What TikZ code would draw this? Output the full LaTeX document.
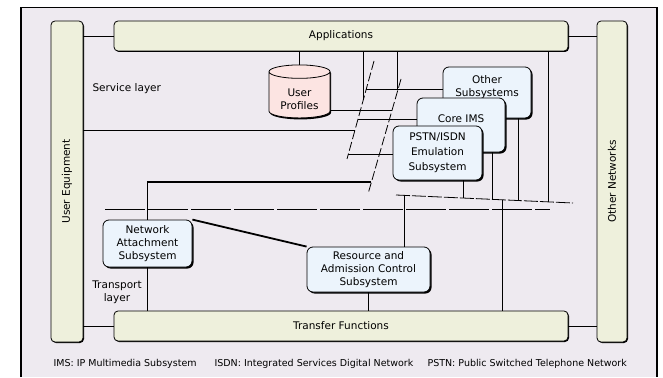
\documentclass[tikz,border=0pt]{standalone}
\usepackage{fontspec}
\usepackage{graphicx}
\setmainfont{DejaVu Sans}
\usetikzlibrary{shapes.geometric,shadows}
\definecolor{bgframe}{RGB}{238,234,240}
\definecolor{barfill}{RGB}{238,240,220}
\definecolor{boxfill}{RGB}{236,244,252}
\definecolor{dbfill}{RGB}{252,228,226}
\begin{document}
\begin{tikzpicture}[x=1pt,y=-1pt,
    font=\fontsize{10.5}{13}\selectfont,
    bar/.style={draw,line width=0.8pt,rounded corners=4pt,fill=barfill,
      drop shadow={shadow xshift=1pt,shadow yshift=-1pt,fill=black,opacity=1}},
    sub/.style={draw,line width=0.8pt,rounded corners=6pt,fill=boxfill,align=center,
      drop shadow={shadow xshift=1.5pt,shadow yshift=-1.5pt,fill=black,opacity=1}},
    refline/.style={line width=0.8pt,dash pattern=on 9pt off 3pt},
    key/.style={anchor=west,font=\fontsize{9.5}{11}\selectfont}]
  \useasboundingbox (0,0) rectangle (663,377);
  \fill[bgframe] (21,7.5) rectangle (657,377);
  \draw[line width=1.3pt] (21,377) -- (21,7.5) -- (657,7.5) -- (657,377);
  % bars
  \node[bar,minimum width=454pt,minimum height=30pt] (apps) at (341,36) {Applications};
  \node[bar,minimum width=454pt,minimum height=30pt] (tf) at (341,326) {Transfer Functions};
  \node[bar,minimum width=32pt,minimum height=321pt] (ue) at (67,181.5) {\rotatebox{90}{User Equipment}};
  \node[bar,minimum width=30pt,minimum height=321pt] (on) at (612,181.5) {\rotatebox{90}{Other Networks}};
  % service stratum
  \node[cylinder,shape border rotate=90,aspect=0.3,draw,line width=0.8pt,fill=dbfill,
    minimum width=61pt,minimum height=53pt,align=center,
    drop shadow={shadow xshift=1pt,shadow yshift=-1.5pt,fill=black,opacity=1}] (prof) at (299.5,96.5) {\mbox{}\\User\\Profiles};
  \node[sub,minimum width=88pt,minimum height=51pt] (other) at (487,92.5) {Other\\Subsystems\\\mbox{}};
  \node[sub,minimum width=88pt,minimum height=54pt] (core) at (461,125) {Core IMS\\\mbox{}};
  \node[sub,minimum width=89pt,minimum height=54pt] (pstn) at (437.5,153) {PSTN/ISDN\\[2pt]Emulation\\[2pt]Subsystem};
  % transport stratum
  \node[sub,minimum width=89pt,minimum height=47pt] (nass) at (147.5,243.5) {Network\\Attachment\\Subsystem};
  \node[sub,minimum width=123pt,minimum height=45pt] (racs) at (368.5,269.5) {Resource and\\Admission Control\\Subsystem};
  \node[anchor=west] (svc) at (89,89) {Service layer};
  \node[align=center] (tpt) at (117,292.5) {Transport\\layer};
  \node[key] (ims) at (50,364) {IMS: IP Multimedia Subsystem};
  \node[key] (isdn) at (211,364) {ISDN: Integrated Services Digital Network};
  \node[key] (pstnkey) at (424,364) {PSTN: Public Switched Telephone Network};
  % reference points
  \coordinate (r1a) at (374,61);  \coordinate (r1b) at (347,159);
  \coordinate (r2a) at (401,79);  \coordinate (r2b) at (368,194);
  \coordinate (r3a) at (396,195); \coordinate (r3b) at (573,203);
  \coordinate (r4a) at (105,209); \coordinate (r4b) at (550,209);
  \coordinate (sl) at (355,130);  \coordinate (a1) at (363.3,100);
  \coordinate (os) at (366.3,89); \coordinate (ci) at (358,119);
  \coordinate (ps) at (348.4,154);
  \coordinate (a2) at (397.8,90); \coordinate (pr) at (392.1,110);
  \coordinate (na) at (371.4,182);
  \coordinate (rc) at (404,195.4); \coordinate (p3) at (463,198);
  \coordinate (c3) at (492,199.3); \coordinate (o3) at (518,200.5);
  \coordinate (tr) at (502,199.8); \coordinate (a3) at (548,201.9);
  \draw[refline] (r1a) -- (r1b);
  \draw[refline] (r2a) -- (r2b);
  \draw[refline,dash pattern=on 14pt off 2pt] (r3a) -- (r3b);
  \draw[refline,dash pattern=on 40pt off 3pt] (r4a) -- (r4b);
  \begin{scope}[line width=0.7pt]
    \draw (apps.west) -- (apps.west -| ue.east);
    \draw (apps.east) -- (apps.east -| on.west);
    \draw (tf.west) -- (tf.west -| ue.east);
    \draw (tf.east) -- (tf.east -| on.west);
    \draw (prof.north) -- (prof.north |- apps.south);
    \draw (ue.east |- sl) -- (sl);
    \draw (a1 |- apps.south) -- (a1);
    \draw (a2 |- apps.south) -- (a2);
    \draw (os) -- (os -| other.west);
    \draw (pr -| prof.east) -- (pr);
    \draw (ci) -- (ci -| core.west);
    \draw (ps) -- (ps -| pstn.west);
    \draw (p3 |- pstn.south) -- (p3);
    \draw (c3 |- core.south) -- (c3);
    \draw (o3 |- other.south) -- (o3);
    \draw (a3 |- apps.south) -- (a3);
    \draw (tr) -- (tr |- tf.north);
    \draw (rc) -- (rc |- racs.north);
    \draw (racs.south) -- (racs.south |- tf.north);
    \draw (nass.south) -- (nass.south |- tf.north);
    \draw[line width=1.3pt] (nass.north) -- (nass.north |- na) -- (na);
    \draw[line width=1.8pt] (nass.north east) -- (racs.north west);
  \end{scope}
\end{tikzpicture}
\end{document}
